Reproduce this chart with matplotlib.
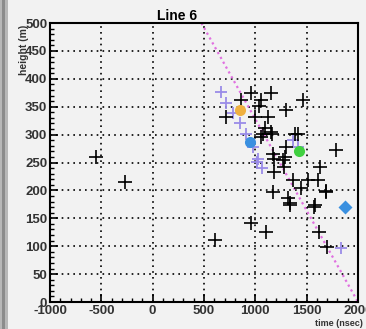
import matplotlib
matplotlib.use("Agg")
import matplotlib.pyplot as plt
from matplotlib.ticker import MultipleLocator
from matplotlib.patches import Rectangle

# black crosses (time nsec, height m)
cross_x = [-556, -265, 612, 955, 1107, 1699, 1625, 1570, 1334, 1318, 1689,
           961, 1155, 864, 1058, 1463, 1301, 1036, 718, 1123, 994, 1091, 1155,
           1058, 1414, 1786, 1172, 1269, 1301, 1178, 1293, 1277, 1178, 1369,
           1515, 1628, 1612, 1693, 1450, 1175, 1337, 1580, 1078, 1159, 1385]
cross_y = [260, 215, 111, 141, 126, 99, 126, 171, 174, 186, 199,
           374, 374, 362, 362, 362, 344, 351, 332, 332, 332, 311, 305,
           296, 302, 272, 266, 254, 278, 257, 260, 242, 233, 219,
           219, 242, 219, 198, 204, 198, 177, 174, 302, 302, 302]
# light blue / purple crosses along the fit line
fit_cross_x = [670, 718, 783, 848, 913, 978, 1026, 1014, 1062, 1366, 1414, 1839]
fit_cross_y = [377, 356, 338, 320, 302, 278, 257, 251, 240, 290, 278, 96]
# special markers
orange_pt = (854, 344)
blue_pt = (945, 286)
green_pt = (1427, 271)
diamond_pt = (1874, 171)
# fit line endpoints
line_x = [475, 2000]
line_y = [500, 0]

plt.rcParams['font.family'] = ['Liberation Sans', 'DejaVu Sans']
plt.rcParams['axes.unicode_minus'] = False

bg = "#f2f2f2"
fig = plt.figure(figsize=(3.66, 3.29), dpi=100, facecolor=bg)
fig.patches.append(Rectangle((0, 0), 0.022, 1, transform=fig.transFigure,
                             facecolor="#b8b8b8", edgecolor="none"))
fig.patches.append(Rectangle((0.006, 0), 0.008, 1, transform=fig.transFigure,
                             facecolor="#8c8c8c", edgecolor="none"))
ax = fig.add_axes([0.1366, 0.082, 0.8414, 0.848])
ax.set_facecolor(bg)

ax.plot(line_x, line_y, linestyle=(0, (1, 1.5)), color="#e070e0", lw=1.6, zorder=2)
ax.plot(fit_cross_x, fit_cross_y, linestyle="none", marker="+", ms=9, mew=1.3,
        color="#9a8ce8", zorder=3)
ax.plot(cross_x, cross_y, linestyle="none", marker="+", ms=9.5, mew=1.2,
        color="black", zorder=4)
ax.plot(*orange_pt, marker="o", ms=8, color="#f0b040", mec="none", zorder=5)
ax.plot(*blue_pt, marker="o", ms=8, color="#3a90e0", mec="none", zorder=5)
ax.plot(*green_pt, marker="o", ms=8, color="#40d040", mec="none", zorder=5)
ax.plot(*diamond_pt, marker="D", ms=7, color="#3a90e0", mec="none", zorder=5)

ax.set_xlim(-1000, 2000)
ax.set_ylim(0, 500)
ax.xaxis.set_major_locator(MultipleLocator(500))
ax.xaxis.set_minor_locator(MultipleLocator(100))
ax.yaxis.set_major_locator(MultipleLocator(50))
ax.yaxis.set_minor_locator(MultipleLocator(10))
ax.grid(True, which="major", color="black", linestyle=(0, (1, 2.5)), lw=1.2)
ax.tick_params(which="both", direction="in", top=False, right=False,
               labelsize=9.5, pad=2)
ax.tick_params(which="major", length=6, width=1.2)
ax.tick_params(which="minor", length=3, width=1.0)
for lab in ax.get_xticklabels() + ax.get_yticklabels():
    lab.set_fontweight("bold")
    lab.set_color("#333333")
for s in ax.spines.values():
    s.set_linewidth(1.5)

fig.text(0.484, 0.951, "Line 6", fontsize=10, fontweight="bold", ha="center", va="center")
fig.text(0.065, 0.848, "height (m)", fontsize=7.5, fontweight="bold", rotation=90,
         ha="center", va="center", color="#333333")
fig.text(0.925, 0.018, "time (nsec)", fontsize=6.5, fontweight="bold", ha="center",
         va="center", color="#333333")

fig.savefig("out.png", dpi=100, facecolor=bg)
